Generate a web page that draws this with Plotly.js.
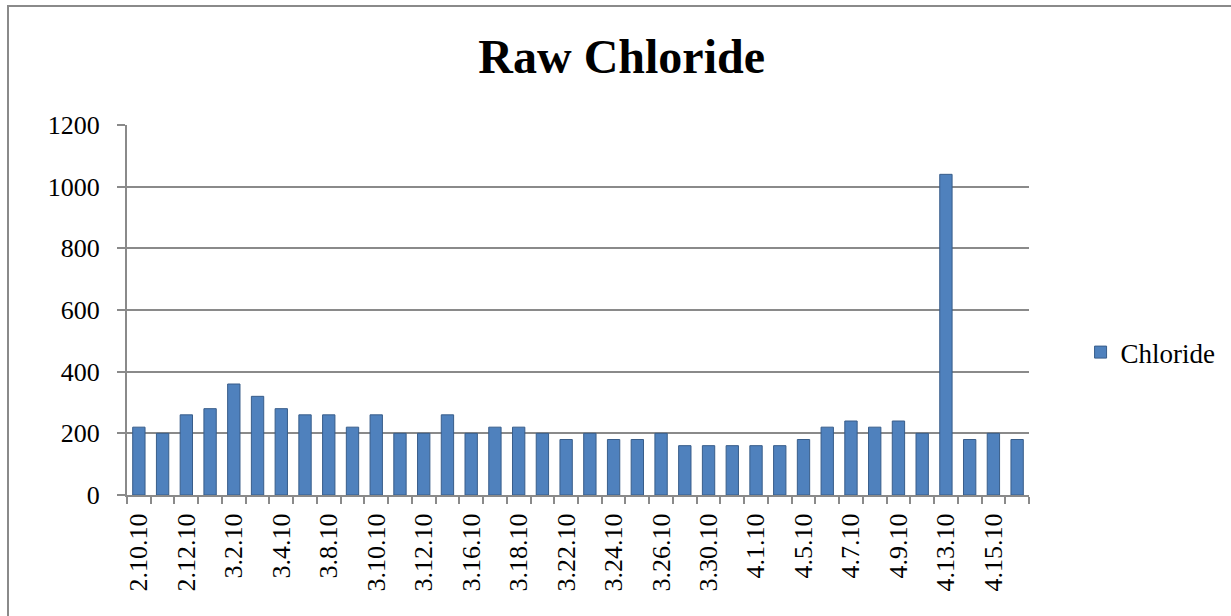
<!DOCTYPE html>
<html>
<head>
<meta charset="utf-8">
<script src="https://cdn.plot.ly/plotly-3.0.1.min.js"></script>
<style>
  html, body { margin: 0; padding: 0; background: #fff; overflow: hidden; }
  #chart { position: absolute; left: 0; top: 0; width: 1231px; height: 616px; }
  #frame { position: absolute; left: 7px; top: 5px; width: 1240px; height: 640px;
           border-left: 2px solid #8a8a8a; border-top: 2px solid #8a8a8a; pointer-events: none; }
</style>
</head>
<body>
<div id="chart"></div>
<div id="frame"></div>
<script>
const dates = [
  "2.10.10","2.11.10","2.12.10","3.1.10","3.2.10","3.3.10","3.4.10","3.5.10",
  "3.8.10","3.9.10","3.10.10","3.11.10","3.12.10","3.15.10","3.16.10","3.17.10",
  "3.18.10","3.19.10","3.22.10","3.23.10","3.24.10","3.25.10","3.26.10","3.29.10",
  "3.30.10","3.31.10","4.1.10","4.2.10","4.5.10","4.6.10","4.7.10","4.8.10",
  "4.9.10","4.12.10","4.13.10","4.14.10","4.15.10","4.16.10"
];
const chloride = [
  220,200,260,280,360,320,280,260,
  260,220,260,200,200,260,200,220,
  220,200,180,200,180,180,200,160,
  160,160,160,160,180,220,240,220,
  240,200,1040,180,200,180
];
const yTicks = [0,200,400,600,800,1000,1200];

const tickText = dates.map((d, i) => (i % 2 === 0 ? d : ""));

const trace = {
  type: "bar",
  name: "Chloride",
  x: dates,
  y: chloride,
  width: 0.52,
  marker: { color: "#4f81bd", line: { color: "#385d8a", width: 1 } }
};

const layout = {
  width: 1231,
  height: 616,
  paper_bgcolor: "#ffffff",
  plot_bgcolor: "#ffffff",
  margin: { l: 127, r: 201, t: 125, b: 121, pad: 0 },
  title: {
    text: "<b>Raw Chloride</b>",
    font: { family: "Liberation Serif, Times New Roman, serif", size: 48, color: "#000" },
    x: 0.505, xref: "container", xanchor: "center",
    y: 0.908, yanchor: "middle"
  },
  showlegend: true,
  legend: {
    x: 1.056, xanchor: "left", y: 0.385, yanchor: "middle",
    font: { family: "Liberation Serif, Times New Roman, serif", size: 27, color: "#000" },
    bgcolor: "rgba(0,0,0,0)", itemwidth: 30
  },
  xaxis: {
    type: "category",
    tickmode: "array",
    tickvals: dates,
    ticktext: tickText,
    tickangle: -90,
    tickson: "boundaries",
    ticks: "outside",
    ticklen: 7,
    tickwidth: 2,
    tickcolor: "#8a8a8a",
    showline: true,
    linecolor: "#8a8a8a",
    linewidth: 2,
    showgrid: false,
    ticklabelstandoff: 6,
    tickfont: { family: "Liberation Serif, Times New Roman, serif", size: 26, color: "#000" }
  },
  yaxis: {
    range: [0, 1200],
    tickmode: "array",
    tickvals: yTicks,
    ticks: "outside",
    ticklen: 8,
    tickwidth: 2,
    tickcolor: "#8a8a8a",
    showline: true,
    linecolor: "#8a8a8a",
    linewidth: 2,
    showgrid: true,
    gridcolor: "#8a8a8a",
    gridwidth: 2,
    zeroline: false,
    ticklabelstandoff: 12,
    tickfont: { family: "Liberation Serif, Times New Roman, serif", size: 26, color: "#000" }
  },
  bargap: 0.48
};

Plotly.newPlot("chart", [trace], layout, { displayModeBar: false, staticPlot: true });
</script>
</body>
</html>
